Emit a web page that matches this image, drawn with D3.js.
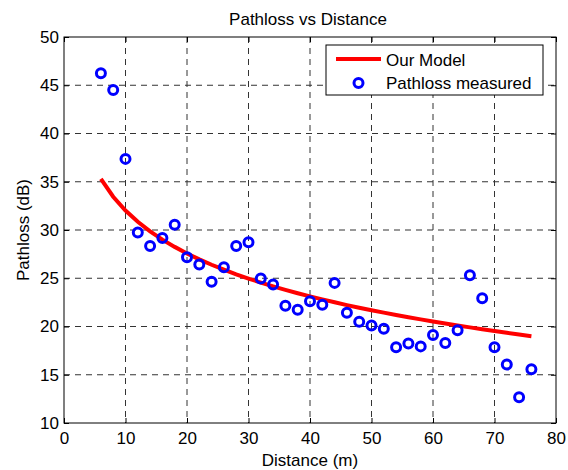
<!DOCTYPE html>
<html>
<head>
<meta charset="utf-8">
<script src="https://cdn.jsdelivr.net/npm/d3@7"></script>
<style>
  body { margin: 0; background: #fff; }
  svg text { font-family: "Liberation Sans", Arial, sans-serif; fill: #000; }
</style>
</head>
<body>
<svg id="chart" width="568" height="470"></svg>
<script>
// measured points (distance in m, pathloss in dB)
const distances = [6, 8, 10, 12, 14, 16, 18, 20, 22, 24, 26, 28, 30, 32, 34, 36, 38, 40,
  42, 44, 46, 48, 50, 52, 54, 56, 58, 60, 62, 64, 66, 68, 70, 72, 74, 76];
const measured = [46.25, 44.5, 37.37, 29.75, 28.35, 29.17, 30.55, 27.17, 26.42, 24.63, 26.14, 28.35,
  28.72, 24.97, 24.35, 22.15, 21.74, 22.62, 22.25, 24.52, 21.43, 20.5, 20.11, 19.77, 17.84, 18.25,
  17.94, 19.11, 18.28, 19.6, 25.3, 22.93, 17.84, 16.05, 12.68, 15.57];
// model curve, read at the same distances
const model = [35.3, 33.45, 32.02, 30.85, 29.86, 29.0, 28.25, 27.57, 26.96, 26.4, 25.89, 25.41,
  24.97, 24.55, 24.16, 23.8, 23.45, 23.12, 22.81, 22.51, 22.22, 21.95, 21.69, 21.44, 21.19, 20.96,
  20.74, 20.52, 20.31, 20.1, 19.91, 19.72, 19.53, 19.35, 19.17, 19.0];

const xTicks = [0, 10, 20, 30, 40, 50, 60, 70, 80];
const yTicks = [10, 15, 20, 25, 30, 35, 40, 45, 50];
const legendLabels = ['Our Model', 'Pathloss measured'];

const fontSize = '17px';
const margin = { top: 37, right: 12, bottom: 47, left: 64 };
const width = 568 - margin.left - margin.right,
  height = 470 - margin.top - margin.bottom;

const svg = d3.select('#chart');
const g = svg.append('g').attr('transform', 'translate(' + margin.left + ',' + margin.top + ')');

const x = d3.scaleLinear().domain([0, 80]).range([0, width]);
const y = d3.scaleLinear().domain([10, 50]).range([height, 0]);

// grid
g.append('g').selectAll('line').data(xTicks.slice(1, -1)).join('line')
  .attr('x1', d => x(d)).attr('x2', d => x(d))
  .attr('y1', 0).attr('y2', height)
  .attr('stroke', '#333').attr('stroke-width', 1).attr('stroke-dasharray', '6,5');
g.append('g').selectAll('line').data(yTicks.slice(1, -1)).join('line')
  .attr('x1', 0).attr('x2', width)
  .attr('y1', d => y(d)).attr('y2', d => y(d))
  .attr('stroke', '#333').attr('stroke-width', 1).attr('stroke-dasharray', '6,5');

// axes (ticks inside, matlab style)
const xAxis = g.append('g').attr('transform', 'translate(0,' + height + ')')
  .call(d3.axisBottom(x).tickValues(xTicks).tickSizeInner(-5).tickSizeOuter(0).tickPadding(9));
const yAxis = g.append('g')
  .call(d3.axisLeft(y).tickValues(yTicks).tickSizeInner(-5).tickSizeOuter(0).tickPadding(5));
const xAxisTop = g.append('g')
  .call(d3.axisTop(x).tickValues(xTicks).tickSizeInner(-5).tickSizeOuter(0).tickFormat(''));
const yAxisRight = g.append('g').attr('transform', 'translate(' + width + ',0)')
  .call(d3.axisRight(y).tickValues(yTicks).tickSizeInner(-5).tickSizeOuter(0).tickFormat(''));
[xAxis, yAxis, xAxisTop, yAxisRight].forEach(a => {
  a.select('.domain').remove();
  a.selectAll('text').style('font-size', fontSize).attr('font-family', 'Liberation Sans, Arial, sans-serif');
});

g.append('rect').attr('width', width).attr('height', height)
  .attr('fill', 'none').attr('stroke', '#000').attr('stroke-width', 1);

// model line
const line = d3.line().x((d, i) => x(distances[i])).y(d => y(d));
g.append('path').datum(model).attr('d', line)
  .attr('fill', 'none').attr('stroke', '#ff0000').attr('stroke-width', 4);

// measured markers
g.append('g').selectAll('circle').data(measured).join('circle')
  .attr('cx', (d, i) => x(distances[i])).attr('cy', d => y(d)).attr('r', 4.5)
  .attr('fill', 'none').attr('stroke', '#0000ff').attr('stroke-width', 3);

// legend
const lg = g.append('g').attr('transform', 'translate(' + (326 - margin.left) + ',' + (45 - margin.top) + ')');
lg.append('rect').attr('width', 217).attr('height', 50)
  .attr('fill', '#fff').attr('stroke', '#000').attr('stroke-width', 1);
lg.append('line').attr('x1', 10).attr('x2', 55).attr('y1', 14).attr('y2', 14)
  .attr('stroke', '#ff0000').attr('stroke-width', 4);
lg.append('circle').attr('cx', 32.5).attr('cy', 38).attr('r', 4.5)
  .attr('fill', 'none').attr('stroke', '#0000ff').attr('stroke-width', 3);
lg.selectAll('text').data(legendLabels).join('text')
  .attr('x', 60).attr('y', (d, i) => 20.5 + i * 23)
  .style('font-size', fontSize).text(d => d);

// title and labels
svg.append('text').attr('x', margin.left + width / 2 - 2).attr('y', 25)
  .attr('text-anchor', 'middle').style('font-size', fontSize).text('Pathloss vs Distance');
svg.append('text').attr('x', margin.left + width / 2).attr('y', 466)
  .attr('text-anchor', 'middle').style('font-size', fontSize).text('Distance (m)');
svg.append('text').attr('transform', 'translate(28.5,' + (margin.top + height / 2) + ') rotate(-90)')
  .attr('text-anchor', 'middle').style('font-size', fontSize).text('Pathloss (dB)');
</script>
</body>
</html>
